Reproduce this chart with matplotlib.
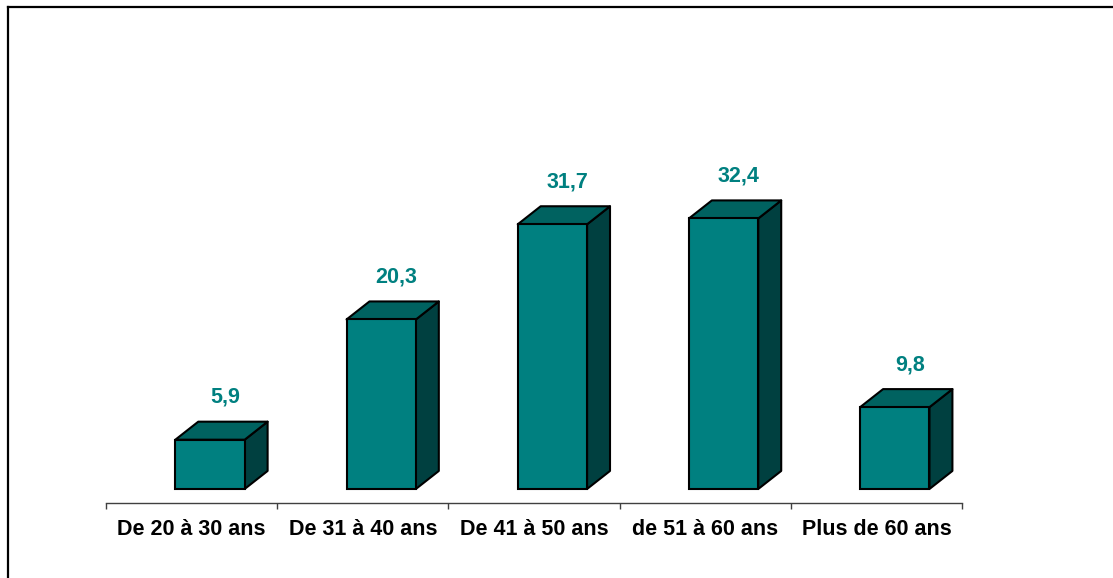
import matplotlib
matplotlib.use('Agg')
import matplotlib.pyplot as plt
from matplotlib.patches import Polygon
from matplotlib.lines import Line2D

categories = ["De 20 à 30 ans", "De 31 à 40 ans", "De 41 à 50 ans", "de 51 à 60 ans", "Plus de 60 ans"]
values = [5.9, 20.3, 31.7, 32.4, 9.8]
value_labels = ["5,9", "20,3", "31,7", "32,4", "9,8"]

plt.rcParams['font.family'] = ['Liberation Sans', 'DejaVu Sans']

W, H = 1113, 578
fig = plt.figure(figsize=(W / 100, H / 100), dpi=100)
ax = fig.add_axes([106 / W, 75 / H, 856 / W, 348 / H])
ax.set_xlim(-0.5, 4.5)
ax.set_ylim(-1.68, 40)

front_c = '#008080'
top_c = '#006260'
side_c = '#004040'
teal_text = '#008080'

left_off, right_off = -0.095, 0.31
dx, dy = 0.134, 2.16

for i, v in enumerate(values):
    x0, x1 = i + left_off, i + right_off
    front = Polygon([(x0, 0), (x1, 0), (x1, v), (x0, v)], closed=True,
                    facecolor=front_c, edgecolor='black', lw=1.5, zorder=3)
    top = Polygon([(x0, v), (x1, v), (x1 + dx, v + dy), (x0 + dx, v + dy)], closed=True,
                  facecolor=top_c, edgecolor='black', lw=1.5, zorder=3, joinstyle='round')
    side = Polygon([(x1, 0), (x1 + dx, dy), (x1 + dx, v + dy), (x1, v)], closed=True,
                   facecolor=side_c, edgecolor='black', lw=1.5, zorder=3, joinstyle='round')
    for p in (side, top, front):
        ax.add_patch(p)
    cx = (x0 + x1 + dx) / 2 + 0.02
    ax.annotate(value_labels[i], xy=(cx, v + dy), xytext=(0, 13.5), textcoords='offset points',
                ha='center', va='baseline', fontsize=15.5, fontweight='bold', color=teal_text)

for s in ('top', 'right', 'left'):
    ax.spines[s].set_visible(False)
ax.spines['bottom'].set_color('#404040')
ax.spines['bottom'].set_linewidth(1.0)
ax.set_yticks([])
ax.set_xticks([i - 0.5 for i in range(len(categories) + 1)])
ax.set_xticklabels([])
ax.tick_params(axis='x', which='major', direction='out', length=4, width=1.0, color='#404040')
ax.set_xticks(range(len(categories)), minor=True)
ax.set_xticklabels(categories, minor=True, fontsize=15.5, fontweight='bold')
ax.tick_params(axis='x', which='minor', length=0, pad=11.5)

fig.add_artist(Line2D([7.5 / W, 7.5 / W], [1 - 6.5 / H, 0], color='black', lw=1.6,
                      transform=fig.transFigure, solid_capstyle='projecting'))
fig.add_artist(Line2D([7.5 / W, 1], [1 - 6.5 / H, 1 - 6.5 / H], color='black', lw=1.6,
                      transform=fig.transFigure, solid_capstyle='projecting'))

fig.savefig('out.png', dpi=100)
